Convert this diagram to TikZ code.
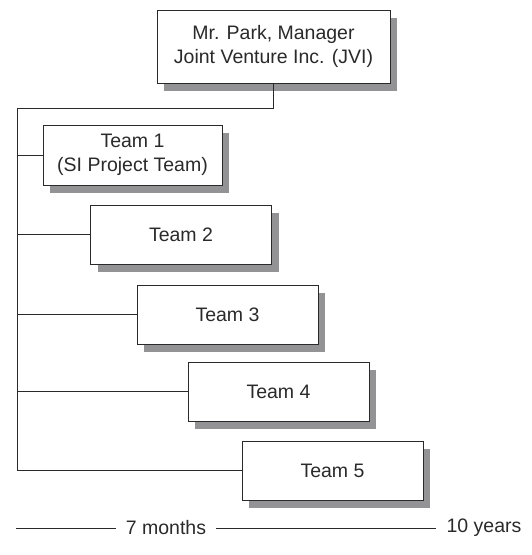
\documentclass[tikz,border=0pt]{standalone}
\usepackage{fontspec}
\setmainfont{Liberation Sans}
\usetikzlibrary{shadows}
\definecolor{shadowgray}{HTML}{939395}
\definecolor{ink}{HTML}{2A2A2A}
\begin{document}
\begin{tikzpicture}[x=1pt,y=-1pt,
  box/.style={draw=ink, line width=0.9pt, fill=white, minimum width=181pt, minimum height=59pt,
    align=center, inner sep=2pt, font=\fontsize{19.5}{24}\selectfont, text=ink,
    drop shadow={shadow xshift=7pt, shadow yshift=-8pt, fill=shadowgray, opacity=1}},
  conn/.style={draw=ink, line width=0.8pt},
  lbl/.style={font=\fontsize{19.5}{24}\selectfont, text=ink, inner xsep=10pt, inner ysep=0pt}]
\useasboundingbox (0,0) rectangle (531,555);
\node[box, minimum width=233pt, minimum height=73pt] (mgr) at (273.5,46.5) {Mr. Park, Manager\\Joint Venture Inc. (JVI)};
\node[box, minimum width=179pt, minimum height=60pt] (t1) at (132.5,155) {Team 1\\(SI Project Team)};
\node[box] (t2) at (181,234.5) {Team 2};
\node[box] (t3) at (227.5,314.5) {Team 3};
\node[box] (t4) at (278.5,391.5) {Team 4};
\node[box] (t5) at (332.5,470.5) {Team 5};
\coordinate (m1) at (273.5,108);
\coordinate (trunk) at (17,108);
\draw[conn] (mgr.south) -- (m1) -- (trunk) |- (t5.west);
\foreach \t in {t1,t2,t3,t4} \draw[conn] (trunk |- \t.west) -- (\t.west);
\node[lbl] (n7) at (166,528) {7 months};
\node[lbl] (n10) at (484,528) {10 years};
\coordinate (l0) at (16,528);
\draw[conn] (l0) -- (n7.west);
\draw[conn] (n7.east) -- (n10.west);
\end{tikzpicture}
\end{document}
